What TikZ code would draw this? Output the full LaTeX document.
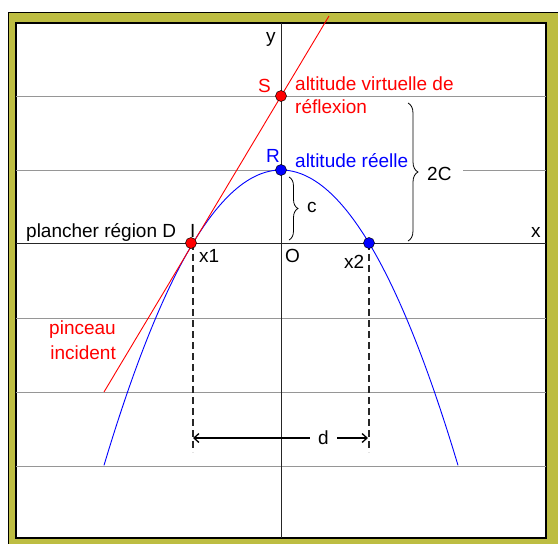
\documentclass[tikz,border=0pt]{standalone}
\usepackage{fontspec}
\setmainfont{Liberation Sans}
\usetikzlibrary{arrows.meta,decorations.pathreplacing}
\definecolor{framegold}{RGB}{189,189,66}
\definecolor{gridgray}{RGB}{150,150,150}
\definecolor{rred}{RGB}{255,0,0}
\definecolor{bblue}{RGB}{0,0,255}
\definecolor{dashgray}{RGB}{40,40,40}
\newcommand\lblfont{\fontsize{19}{22}\selectfont}
\tikzset{
  gridline/.style={draw=gridgray, line width=0.8pt},
  axisline/.style={draw=black!85, line width=0.9pt},
  lbl/.style={font=\lblfont, inner sep=0pt, anchor=base west},
  lble/.style={font=\lblfont, inner sep=0pt, anchor=base east},
  dot/.style={circle, minimum size=11pt, inner sep=0pt, draw=black, line width=0.5pt},
  dashline/.style={draw=dashgray, line width=1.2pt, dash pattern=on 7pt off 4pt},
  dimarrow/.style={draw=black, line width=1.3pt, {Straight Barb[length=5pt,width=9pt]}-{Straight Barb[length=5pt,width=9pt]}},
  bracestyle/.style={draw=black, line width=0.8pt, decorate, decoration={brace, amplitude=#1}},
}
\begin{document}
\begin{tikzpicture}[x=1pt,y=1pt]
\useasboundingbox (0,0) rectangle (558,-544);
\clip (0,0) rectangle (558,-544);
% frame
\filldraw[fill=framegold, draw=black, line width=1pt] (8,-12) rectangle (570,-556);
\filldraw[fill=white, draw=black, line width=1.5pt] (16,-23) rectangle (546,-538);
% grid lines
\draw[gridline] (16,-96) -- (546,-96);
\draw[gridline] (16,-170) -- (281,-170);
\draw[gridline] (463,-170) -- (546,-170);
\draw[gridline] (16,-318) -- (546,-318);
\draw[gridline] (16,-392) -- (546,-392);
\draw[gridline] (16,-466) -- (546,-466);
% axes
\coordinate (xa) at (16,-243);
\coordinate (xb) at (546,-243);
\coordinate (ya) at (281,-23);
\coordinate (yb) at (281,-538);
\draw[axisline] (xa) -- (xb);
\draw[axisline] (ya) -- (yb);
% parabola
\draw[bblue, line width=0.9pt] plot[domain=104:458, samples=80, smooth] (\x, {-(170+(0.09709*(\x-281))^2)});
% incident ray
\coordinate (rb) at (104,-392);
\coordinate (rt) at (329,-16);
\draw[rred, line width=0.9pt] (rb) -- (rt);
% dashed verticals
\coordinate (I) at (193,-243);
\coordinate (X2) at (369,-243);
\coordinate (I0) at (193,-452);
\coordinate (X20) at (369,-452);
\draw[dashline] (I) -- (I0);
\draw[dashline] (X2) -- (X20);
% dimension d
\coordinate (dl) at (193,-438);
\coordinate (dr) at (368,-438);
\draw[dimarrow] (dl) -- node[pos=0.745, fill=white, inner xsep=8pt, inner ysep=1pt, font=\lblfont] (dlab) {d} (dr);
% braces
\coordinate (b1t) at (408,-103);
\coordinate (b1b) at (408,-241);
\draw[bracestyle=10pt] (b1t) -- (b1b);
\coordinate (b2t) at (289,-177);
\coordinate (b2b) at (289,-240);
\draw[bracestyle=9pt] (b2t) -- (b2b);
% dots
\node[dot, fill=rred] (Sdot) at (281,-96) {};
\node[dot, fill=bblue] (Rdot) at (281,-170) {};
\node[dot, fill=rred] (Idot) at (191,-243) {};
\node[dot, fill=bblue] (X2dot) at (X2) {};
% labels
\node[lbl] (lplancher) at (26,-237) {plancher région D};
\node[lbl] (lI) at (190,-237) {I};
\node[lbl] (lx1) at (199,-262) {x1};
\node[lbl] (lO) at (285,-262) {O};
\node[lbl] (lx2) at (344,-268) {x2};
\node[lbl] (lx) at (531,-237) {x};
\node[lbl] (ly) at (266,-42) {y};
\node[lbl, text=rred] (lS) at (258,-92) {S};
\node[lbl, text=rred] (lvirt) at (295,-90) {altitude virtuelle de};
\node[lbl, text=rred] (lrefl) at (295,-113) {réflexion};
\node[lbl, text=bblue] (lR) at (266,-162) {R};
\node[lbl, text=bblue] (lreel) at (295,-167) {altitude réelle};
\node[lbl] (l2C) at (427,-180) {2C};
\node[lbl] (lc) at (307,-212) {c};
\node[lble, text=rred] (lpin) at (116,-334) {pinceau};
\node[lble, text=rred] (linc) at (116,-359) {incident};
\end{tikzpicture}
\end{document}
